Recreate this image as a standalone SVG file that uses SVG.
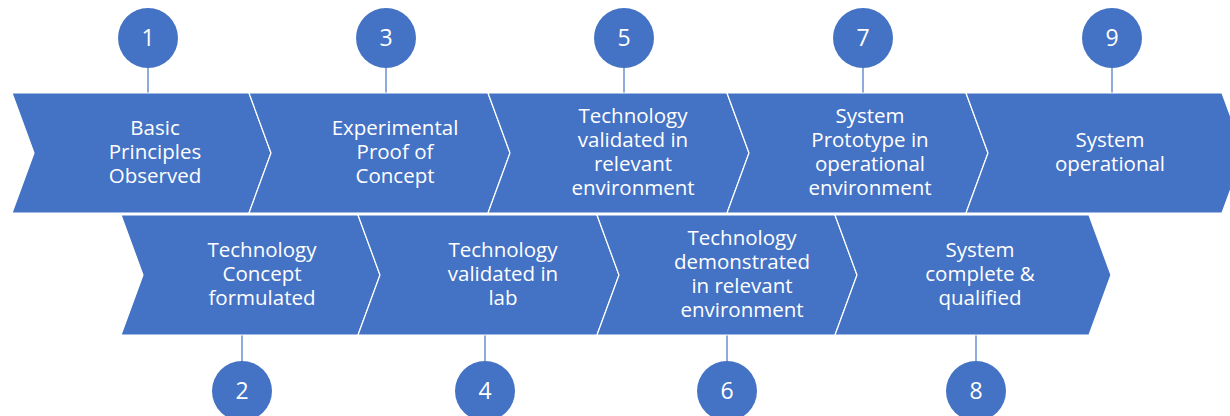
<svg xmlns="http://www.w3.org/2000/svg" width="1230" height="416" viewBox="0 0 1230 416">
<style>
.chev{fill:#4472C4;stroke:#ffffff;stroke-width:1.2;stroke-linejoin:miter}
.circ{fill:#4472C4}
.lbl{font-family:"Open Sans","Noto Sans","Liberation Sans",sans-serif;font-size:20.5px;fill:#ffffff;text-anchor:middle}
.num{font-family:"Open Sans","Noto Sans","Liberation Sans",sans-serif;font-size:23px;fill:#ffffff;text-anchor:middle}
.conn{stroke:#8FAADC;stroke-width:2;fill:none}
</style>
<rect width="1230" height="416" fill="#ffffff"/>
<g id="connectors">
<line class="conn" x1="148" y1="66" x2="148" y2="93"/>
<line class="conn" x1="386" y1="66" x2="386" y2="93"/>
<line class="conn" x1="624" y1="66" x2="624" y2="93"/>
<line class="conn" x1="863" y1="66" x2="863" y2="93"/>
<line class="conn" x1="1112" y1="66" x2="1112" y2="93"/>
<line class="conn" x1="242" y1="335" x2="242" y2="362"/>
<line class="conn" x1="485" y1="335" x2="485" y2="362"/>
<line class="conn" x1="727" y1="335" x2="727" y2="362"/>
<line class="conn" x1="976" y1="335" x2="976" y2="362"/>
</g>
<g id="step1">
<polygon class="chev" points="12,93 249,93 271,153 249,213 12,213 34,153"/>
<text class="lbl" x="155" y="135">Basic</text>
<text class="lbl" x="155" y="159">Principles</text>
<text class="lbl" x="155" y="183">Observed</text>
</g>
<g id="step3">
<polygon class="chev" points="249,93 488,93 510,153 488,213 249,213 271,153"/>
<text class="lbl" x="395" y="135">Experimental</text>
<text class="lbl" x="395" y="159">Proof of</text>
<text class="lbl" x="395" y="183">Concept</text>
</g>
<g id="step5">
<polygon class="chev" points="488,93 727,93 749,153 727,213 488,213 510,153"/>
<text class="lbl" x="633" y="123">Technology</text>
<text class="lbl" x="633" y="147">validated in</text>
<text class="lbl" x="633" y="171">relevant</text>
<text class="lbl" x="633" y="195">environment</text>
</g>
<g id="step7">
<polygon class="chev" points="727,93 966,93 988,153 966,213 727,213 749,153"/>
<text class="lbl" x="870" y="123">System</text>
<text class="lbl" x="870" y="147">Prototype in</text>
<text class="lbl" x="870" y="171">operational</text>
<text class="lbl" x="870" y="195">environment</text>
</g>
<g id="step9">
<polygon class="chev" points="966,93 1222,93 1244,153 1222,213 966,213 988,153"/>
<text class="lbl" x="1110" y="147">System</text>
<text class="lbl" x="1110" y="171">operational</text>
</g>
<g id="step2">
<polygon class="chev" points="121,215 358,215 380,275 358,335 121,335 143,275"/>
<text class="lbl" x="262" y="257">Technology</text>
<text class="lbl" x="262" y="281">Concept</text>
<text class="lbl" x="262" y="305">formulated</text>
</g>
<g id="step4">
<polygon class="chev" points="358,215 597,215 619,275 597,335 358,335 380,275"/>
<text class="lbl" x="503" y="257">Technology</text>
<text class="lbl" x="503" y="281">validated in</text>
<text class="lbl" x="503" y="305">lab</text>
</g>
<g id="step6">
<polygon class="chev" points="597,215 835,215 857,275 835,335 597,335 619,275"/>
<text class="lbl" x="742" y="245">Technology</text>
<text class="lbl" x="742" y="269">demonstrated</text>
<text class="lbl" x="742" y="293">in relevant</text>
<text class="lbl" x="742" y="317">environment</text>
</g>
<g id="step8">
<polygon class="chev" points="835,215 1089,215 1111,275 1089,335 835,335 857,275"/>
<text class="lbl" x="980" y="257">System</text>
<text class="lbl" x="980" y="281">complete &amp;</text>
<text class="lbl" x="980" y="305">qualified</text>
</g>
<g id="num1"><circle class="circ" cx="148" cy="38" r="30"/><text class="num" x="148" y="46">1</text></g>
<g id="num3"><circle class="circ" cx="386" cy="38" r="30"/><text class="num" x="386" y="46">3</text></g>
<g id="num5"><circle class="circ" cx="624" cy="38" r="30"/><text class="num" x="624" y="46">5</text></g>
<g id="num7"><circle class="circ" cx="863" cy="38" r="30"/><text class="num" x="863" y="46">7</text></g>
<g id="num9"><circle class="circ" cx="1112" cy="38" r="30"/><text class="num" x="1112" y="46">9</text></g>
<g id="num2"><circle class="circ" cx="242" cy="391" r="30"/><text class="num" x="242" y="399">2</text></g>
<g id="num4"><circle class="circ" cx="485" cy="391" r="30"/><text class="num" x="485" y="399">4</text></g>
<g id="num6"><circle class="circ" cx="727" cy="391" r="30"/><text class="num" x="727" y="399">6</text></g>
<g id="num8"><circle class="circ" cx="976" cy="391" r="30"/><text class="num" x="976" y="399">8</text></g>
</svg>
